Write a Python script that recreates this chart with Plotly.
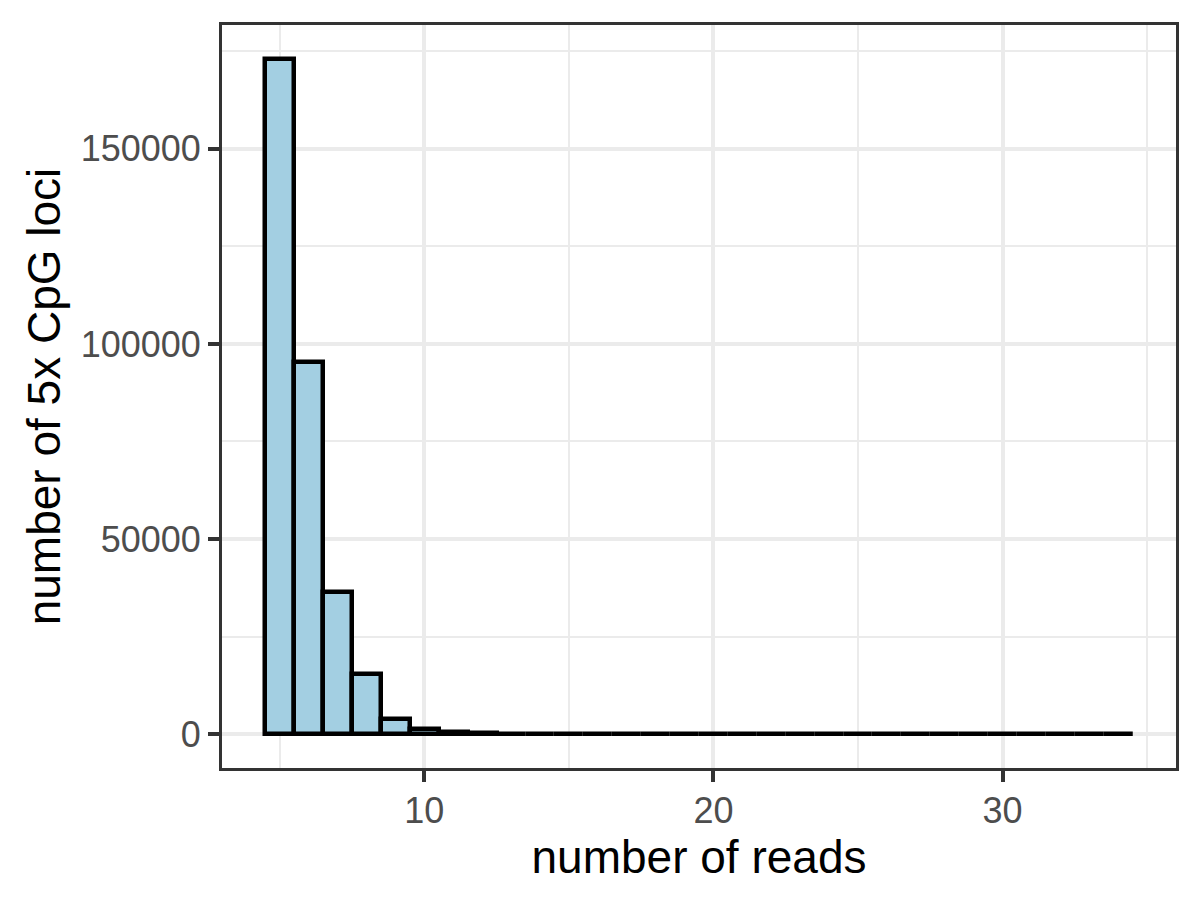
import plotly.graph_objects as go

# Histogram bins (centers, width 1) and counts
read_counts = list(range(5, 35))
loci_counts = [173000, 95300, 36400, 15500, 4000, 1250, 550, 250, 130, 75,
               45, 30, 22, 16, 12, 9, 7, 6, 5, 4,
               3, 3, 2, 2, 2, 1, 1, 1, 1, 1]

x_ticks = [10, 20, 30]
y_ticks = [0, 50000, 100000, 150000]
y_tick_labels = ["0", "50000", "100000", "150000"]

fig = go.Figure()
fig.add_trace(go.Bar(
    x=read_counts, y=loci_counts, width=1,
    marker=dict(color="#A3CFE2", line=dict(color="black", width=4.5)),
    showlegend=False,
))

font_family = "Liberation Sans, Arial, Helvetica, sans-serif"
fig.update_layout(
    width=1200, height=900,
    margin=dict(l=214, r=32, t=17, b=140),
    paper_bgcolor="white", plot_bgcolor="white",
    font=dict(family=font_family, color="#4D4D4D", size=36),
    bargap=0,
    xaxis=dict(
        range=[3, 36], tickvals=x_ticks, ticktext=[str(v) for v in x_ticks],
        showgrid=True, gridcolor="#EBEBEB", gridwidth=4,
        minor=dict(tickvals=[5, 15, 25, 35], showgrid=True, gridcolor="#EBEBEB", gridwidth=2, ticklen=0),
        showline=True, mirror=True, linecolor="#333333", linewidth=3,
        ticks="outside", ticklen=11, tickwidth=3.5, tickcolor="#333333",
        tickfont=dict(size=36, color="#4D4D4D"),
        ticklabelstandoff=-2,
        zeroline=False,
        title=dict(text="number of reads", font=dict(size=46, color="black"), standoff=5),
    ),
    yaxis=dict(
        range=[-8650, 181700], tickvals=y_ticks, ticktext=y_tick_labels,
        showgrid=True, gridcolor="#EBEBEB", gridwidth=4,
        minor=dict(tickvals=[25000, 75000, 125000, 175000], showgrid=True, gridcolor="#EBEBEB", gridwidth=2, ticklen=0),
        showline=True, mirror=True, linecolor="#333333", linewidth=3,
        ticks="outside", ticklen=11, tickwidth=3.5, tickcolor="#333333",
        tickfont=dict(size=36, color="#4D4D4D"),
        zeroline=False,
        title=dict(text="number of 5x CpG loci", font=dict(size=46, color="black"), standoff=6),
    ),
)

fig.write_html("out.html")
